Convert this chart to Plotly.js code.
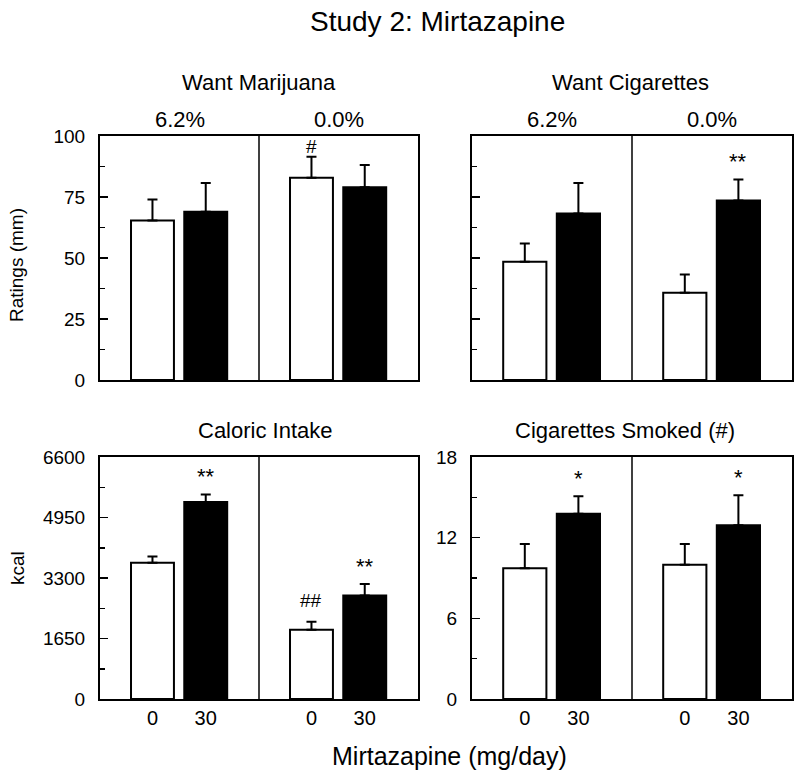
<!DOCTYPE html>
<html>
<head>
<meta charset="utf-8">
<script src="https://cdn.plot.ly/plotly-3.0.1.min.js"></script>
<style>html,body{margin:0;padding:0;background:#fff;}#chart{width:800px;height:775px;}</style>
</head>
<body>
<div id="chart"></div>
<script>
// ---- data ----
const thcGroups = ['6.2%', '0.0%'];
const doses = ['0', '30'];
const panelTitles = ['Want Marijuana', 'Want Cigarettes', 'Caloric Intake', 'Cigarettes Smoked (#)'];

// order: [6.2% dose0, 6.2% dose30, 0.0% dose0, 0.0% dose30]
const wantMarijuana    = [65.4, 69.0, 82.9, 79.0];
const wantMarijuanaErr = [8.6, 11.7, 8.6, 9.1];
const wantCigarettes    = [48.5, 68.2, 35.8, 73.6];
const wantCigarettesErr = [7.4, 12.5, 7.4, 8.6];
const caloricIntake    = [3717, 5373, 1890, 2826];
const caloricIntakeErr = [172, 207, 218, 310];
const cigsSmoked    = [9.72, 13.77, 9.99, 12.93];
const cigsSmokedErr = [1.80, 1.31, 1.53, 2.23];

const sigMarijuana  = ['', '', '#', ''];
const sigCigarettes = ['', '', '', '**'];
const sigCaloric    = ['', '**', '##', '**'];
const sigSmoked     = ['', '*', '', '*'];

const yTicksRatings = [0, 25, 50, 75, 100];
const yTicksKcal = [0, 1650, 3300, 4950, 6600];
const yTicksCigs = [0, 6, 12, 18];

// ---- layout helpers ----
const FONT = 'Liberation Sans, Arial, Helvetica, sans-serif';
const W = 800, H = 775;
const px = v => v / W;
const py = v => 1 - v / H;

const panels = [
  {vals: wantMarijuana, err: wantMarijuanaErr, sig: sigMarijuana, ticks: yTicksRatings, showY: true,  showX: false,
   xd: [px(100), px(418)], yd: [py(380), py(136)], titleX: 259, titleY: 83},
  {vals: wantCigarettes, err: wantCigarettesErr, sig: sigCigarettes, ticks: yTicksRatings, showY: false, showX: false,
   xd: [px(472), px(792)], yd: [py(380), py(136)], titleX: 630, titleY: 82},
  {vals: caloricIntake, err: caloricIntakeErr, sig: sigCaloric, ticks: yTicksKcal, showY: true, showX: true,
   xd: [px(100), px(418)], yd: [py(699), py(457)], titleX: 265, titleY: 430},
  {vals: cigsSmoked, err: cigsSmokedErr, sig: sigSmoked, ticks: yTicksCigs, showY: true, showX: true,
   xd: [px(472), px(792)], yd: [py(699), py(457)], titleX: 625, titleY: 430}
];

function barX(i) { // i = group*2 + dose
  const g = Math.floor(i / 2), d = i % 2;
  return g * 2 + (d === 0 ? 0.66 : 1.33);
}
function sigShift(s) { return s === '#' ? 10 : (s === '##' ? 21 : 18); }

const traces = [];
const annotations = [];
const shapes = [];
const layout = {
  width: W, height: H,
  margin: {l: 0, r: 0, t: 0, b: 0},
  paper_bgcolor: '#fff', plot_bgcolor: '#fff',
  showlegend: false,
  barmode: 'overlay',
  font: {family: FONT, color: '#000', size: 19}
};

panels.forEach((p, k) => {
  const n = k + 1;
  const xa = 'x' + (n === 1 ? '' : n), ya = 'y' + (n === 1 ? '' : n);
  const xkey = 'xaxis' + (n === 1 ? '' : n), ykey = 'yaxis' + (n === 1 ? '' : n);
  const ymax = p.ticks[p.ticks.length - 1];
  const step = p.ticks[1] - p.ticks[0];

  [0, 1].forEach(d => {
    const idx = [d, d + 2];
    traces.push({
      type: 'bar', xaxis: xa, yaxis: ya,
      x: idx.map(barX), y: idx.map(i => p.vals[i]),
      width: 0.54,
      marker: {color: d === 0 ? '#fff' : '#000', line: {color: '#000', width: 2}},
      error_y: {type: 'data', symmetric: false, array: idx.map(i => p.err[i]), arrayminus: idx.map(() => 0),
                color: '#000', thickness: 2, width: 5},
      hoverinfo: 'none'
    });
  });

  layout[xkey] = {
    domain: p.xd, range: [0, 4], anchor: ya,
    showline: true, mirror: true, linecolor: '#000', linewidth: 2,
    showgrid: false, zeroline: false, ticks: '',
    tickmode: 'array',
    tickvals: [0, 1, 2, 3].map(barX),
    ticktext: [0, 1, 2, 3].map(i => doses[i % 2]),
    showticklabels: p.showX,
    tickfont: {family: FONT, size: 20, color: '#000'}
  };
  layout[ykey] = {
    domain: p.yd, range: [0, ymax], anchor: xa,
    showline: true, mirror: true, linecolor: '#000', linewidth: 2,
    showgrid: false, zeroline: false,
    ticks: 'inside', ticklen: 8, tickwidth: 1.5, tickcolor: '#000',
    tickmode: 'array', tickvals: p.ticks, ticktext: p.ticks.map(String),
    showticklabels: p.showY, ticklabelstandoff: 9,
    tickfont: {family: FONT, size: 19, color: '#000'},
    minor: {ticks: 'inside', ticklen: 5, tickwidth: 1.5, tickcolor: '#000', dtick: step / 2, tick0: 0, showgrid: false}
  };

  // divider between THC groups
  shapes.push({type: 'line', xref: xa, yref: ya + ' domain', x0: 2, x1: 2, y0: 0, y1: 1,
               line: {color: '#000', width: 1.5}});

  // panel title
  annotations.push({xref: 'paper', yref: 'paper', x: px(p.titleX), y: py(p.titleY),
                    text: panelTitles[k], showarrow: false, xanchor: 'center', yanchor: 'middle',
                    font: {family: FONT, size: 22, color: '#000'}});

  // THC labels (top panels only)
  if (k < 2) {
    thcGroups.forEach((g, gi) => {
      annotations.push({xref: xa, yref: 'paper', x: gi * 2 + 1, y: py(119),
                        text: g, showarrow: false, xanchor: 'center', yanchor: 'middle',
                        font: {family: FONT, size: 22, color: '#000'}});
    });
  }

  // significance markers
  p.sig.forEach((s, i) => {
    if (!s) return;
    annotations.push({xref: xa, yref: ya, x: barX(i), y: p.vals[i] + p.err[i],
                      yshift: sigShift(s), text: s, showarrow: false, xanchor: 'center', yanchor: 'middle',
                      font: {family: FONT, size: (s.indexOf('#') >= 0 ? 19 : 22), color: '#000'}});
  });
});

// overall title and axis titles
annotations.push({xref: 'paper', yref: 'paper', x: px(437), y: py(21), text: 'Study 2: Mirtazapine',
                  showarrow: false, xanchor: 'center', yanchor: 'middle', font: {family: FONT, size: 28, color: '#000'}});
annotations.push({xref: 'paper', yref: 'paper', x: px(449), y: py(756), text: 'Mirtazapine (mg/day)',
                  showarrow: false, xanchor: 'center', yanchor: 'middle', font: {family: FONT, size: 25, color: '#000'}});
annotations.push({xref: 'paper', yref: 'paper', x: px(16), y: py(265), text: 'Ratings (mm)', textangle: -90,
                  showarrow: false, xanchor: 'center', yanchor: 'middle', font: {family: FONT, size: 19, color: '#000'}});
annotations.push({xref: 'paper', yref: 'paper', x: px(17), y: py(568), text: 'kcal', textangle: -90,
                  showarrow: false, xanchor: 'center', yanchor: 'middle', font: {family: FONT, size: 19, color: '#000'}});

layout.annotations = annotations;
layout.shapes = shapes;

Plotly.newPlot('chart', traces, layout, {staticPlot: true, displayModeBar: false});
</script>
</body>
</html>
